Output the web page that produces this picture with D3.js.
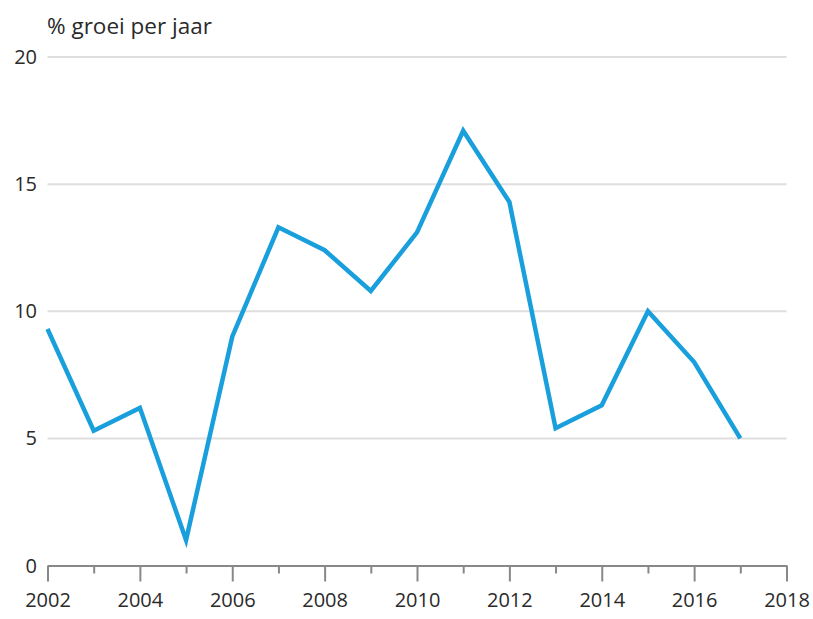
<!DOCTYPE html>
<html>
<head>
<meta charset="utf-8">
<script src="https://cdn.jsdelivr.net/npm/d3@7"></script>
<style>
  body { margin: 0; background: #fff; }
  text { font-family: "Open Sans", Lato, sans-serif; fill: #2a2a2a; }
</style>
</head>
<body>
<div id="chart"></div>
<script>
// growth per year
var years = [2002, 2003, 2004, 2005, 2006, 2007, 2008, 2009, 2010, 2011, 2012, 2013, 2014, 2015, 2016, 2017];
var growth = [9.3, 5.3, 6.2, 1.0, 9.0, 13.3, 12.4, 10.8, 13.1, 17.1, 14.3, 5.4, 6.3, 10.0, 8.0, 5.0];
var yTicks = [0, 5, 10, 15, 20];
var xTicks = [2002, 2004, 2006, 2008, 2010, 2012, 2014, 2016, 2018];
var title = "% groei per jaar";

var width = 813, height = 619;
var svg = d3.select("#chart").append("svg")
    .attr("width", width)
    .attr("height", height);

var x = d3.scaleLinear().domain([2002, 2018]).range([47.5, 786.5]);
var y = d3.scaleLinear().domain([0, 20]).range([565.5, 57]);

// gridlines
svg.append("g").selectAll("line")
    .data(yTicks.filter(function(d) { return d > 0; }))
    .join("line")
    .attr("x1", x(2002))
    .attr("x2", x(2018))
    .attr("y1", function(d) { return y(d); })
    .attr("y2", function(d) { return y(d); })
    .style("stroke", "#dedede")
    .style("stroke-width", "2px");

// y labels
svg.append("g").selectAll("text")
    .data(yTicks)
    .join("text")
    .attr("x", 37)
    .attr("y", function(d) { return y(d); })
    .attr("dy", "0.35em")
    .attr("text-anchor", "end")
    .style("font-size", "20px")
    .text(function(d) { return d; });

// x axis
var xAxis = d3.axisBottom(x)
    .tickValues(d3.range(2002, 2019))
    .tickFormat(function(d) { return xTicks.indexOf(d) >= 0 ? d : ""; })
    .tickSize(16)
    .tickSizeOuter(0);

var gx = svg.append("g")
    .attr("transform", "translate(0," + y(0) + ")")
    .call(xAxis);

gx.select(".domain").style("stroke", "#888").style("stroke-width", "2px");
gx.selectAll(".tick line")
    .style("stroke", "#888")
    .style("stroke-width", "2px")
    .attr("y2", function(d) { return xTicks.indexOf(d) >= 0 ? 16 : 8; });
gx.selectAll(".tick text")
    .attr("y", 34)
    .attr("dy", "0.35em")
    .style("font-family", "\"Open Sans\", Lato, sans-serif")
    .style("font-size", "20px")
    .style("fill", "#2a2a2a");

// line
var line = d3.line()
    .x(function(d, i) { return x(years[i]); })
    .y(function(d) { return y(d); });

svg.append("path")
    .datum(growth)
    .attr("d", line)
    .style("fill", "none")
    .style("stroke", "#1a9fdd")
    .style("stroke-width", "4.5px")
    .style("stroke-linejoin", "miter");

// title
svg.append("text")
    .attr("x", 47)
    .attr("y", 34)
    .style("font-size", "22.5px")
    .text(title);
</script>
</body>
</html>
